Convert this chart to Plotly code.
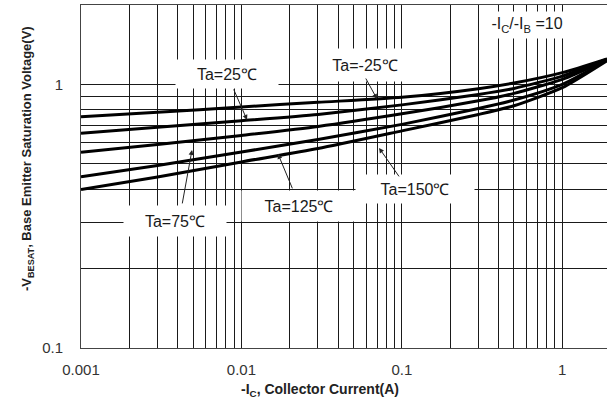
import math
import plotly.graph_objects as go

# Collector current (A)
ic = [0.001, 0.003, 0.01, 0.03, 0.1, 0.3, 0.5, 1.0, 1.9]

# Base-emitter saturation voltage (V) per ambient temperature
vbe_m25 = [0.754, 0.783, 0.821, 0.855, 0.893, 0.963, 1.012, 1.108, 1.250]
vbe_25 = [0.653, 0.688, 0.728, 0.769, 0.836, 0.916, 0.965, 1.075, 1.245]
vbe_75 = [0.553, 0.591, 0.640, 0.692, 0.773, 0.866, 0.924, 1.045, 1.240]
vbe_125 = [0.446, 0.492, 0.554, 0.618, 0.705, 0.810, 0.872, 1.000, 1.235]
vbe_150 = [0.399, 0.445, 0.508, 0.571, 0.666, 0.769, 0.830, 0.972, 1.230]

series_names = ["Ta=-25℃", "Ta=25℃", "Ta=75℃", "Ta=125℃", "Ta=150℃"]
series_values = [vbe_m25, vbe_25, vbe_75, vbe_125, vbe_150]

x_mult = [m for e in (-3, -2, -1) for m in range(1, 10)] + [1]
x_tickvals = [m * 10 ** e for e in (-3, -2, -1) for m in range(1, 10)] + [1]
x_ticktext = [("%g" % v) if m == 1 else "" for v, m in zip(x_tickvals, x_mult)]
y_tickvals = [m * 0.1 for m in range(1, 10)] + [1, 2]
y_ticktext = ["0.1"] + [""] * 8 + ["1", ""]

FONT = "Liberation Sans, Arial, sans-serif"

fig = go.Figure()
for name, vals in zip(series_names, series_values):
    fig.add_trace(go.Scatter(x=ic, y=vals, mode="lines", name=name,
                             line=dict(color="black", width=3, shape="spline", smoothing=0.6),
                             showlegend=False))

lg = math.log10
# text labels (x, y in data units)
labels = [
    ("Ta=25℃", 0.00813, 1.095, 100, 26),
    ("Ta=-25℃", 0.059, 1.185, 90, 30),
    ("-I<sub>C</sub>/-I<sub>B</sub> =10", 0.603, 1.68, 84, 24),
    ("Ta=75℃", 0.00386, 0.303, 100, 28),
    ("Ta=125℃", 0.0229, 0.346, 112, 28),
    ("Ta=150℃", 0.121, 0.401, 116, 26),
]
for text, x, y, w, h in labels:
    fig.add_annotation(x=lg(x), y=lg(y), xref="x", yref="y", text=text,
                       showarrow=False, bgcolor="white", width=w, height=h,
                       font=dict(family=FONT, size=16, color="#1a1a1a"))

# arrows: tip (data) and tail offset (px)
arrows = [
    (0.01084, 0.733, -14, -32),
    (0.0700, 0.880, -12, -22),
    (0.0721, 0.574, 21, 30),
    (0.0169, 0.545, 15, 36),
    (0.00492, 0.564, -10, 55),
]
for x, y, ax, ay in arrows:
    fig.add_annotation(x=lg(x), y=lg(y), xref="x", yref="y", text="",
                       showarrow=True, arrowhead=2, arrowsize=1, arrowwidth=1,
                       arrowcolor="#222", ax=ax, ay=ay)

fig.add_annotation(x=(320 - 81) / 526, y=-0.122, xref="paper", yref="paper",
                   xanchor="center", yanchor="middle",
                   text="<b>-I<sub>C</sub>, Collector Current(A)</b>", showarrow=False,
                   font=dict(family=FONT, size=14, color="#222"))
fig.add_annotation(x=(27 - 81) / 526, y=0.551, xref="paper", yref="paper", textangle=-90,
                   xanchor="center", yanchor="middle",
                   text="<b>-V<sub>BESAT</sub>, Base Emitter Saturation Voltage(V)</b>",
                   showarrow=False, font=dict(family=FONT, size=13, color="#222"))

fig.update_xaxes(type="log", range=[-3, lg(1.9)], tickvals=x_tickvals, ticktext=x_ticktext,
                 showgrid=True, gridcolor="#1a1a1a", gridwidth=1, zeroline=False,
                 showline=True, linecolor="#444", linewidth=1, mirror=True,
                 ticks="", ticklabelstandoff=8,
                 tickfont=dict(family=FONT, size=15, color="#333"))
fig.update_yaxes(type="log", range=[-1, lg(2)], tickvals=y_tickvals, ticktext=y_ticktext,
                 showgrid=True, gridcolor="#1a1a1a", gridwidth=1, zeroline=False,
                 showline=True, linecolor="#444", linewidth=1, mirror=True,
                 ticks="", ticklabelstandoff=14,
                 tickfont=dict(family=FONT, size=15, color="#333"))

fig.update_layout(width=607, height=406, margin=dict(l=81, r=0, t=5, b=58),
                  paper_bgcolor="white", plot_bgcolor="white")

fig.write_html("out.html", config={"displayModeBar": False},
               post_script="document.body.style.margin='0';")
